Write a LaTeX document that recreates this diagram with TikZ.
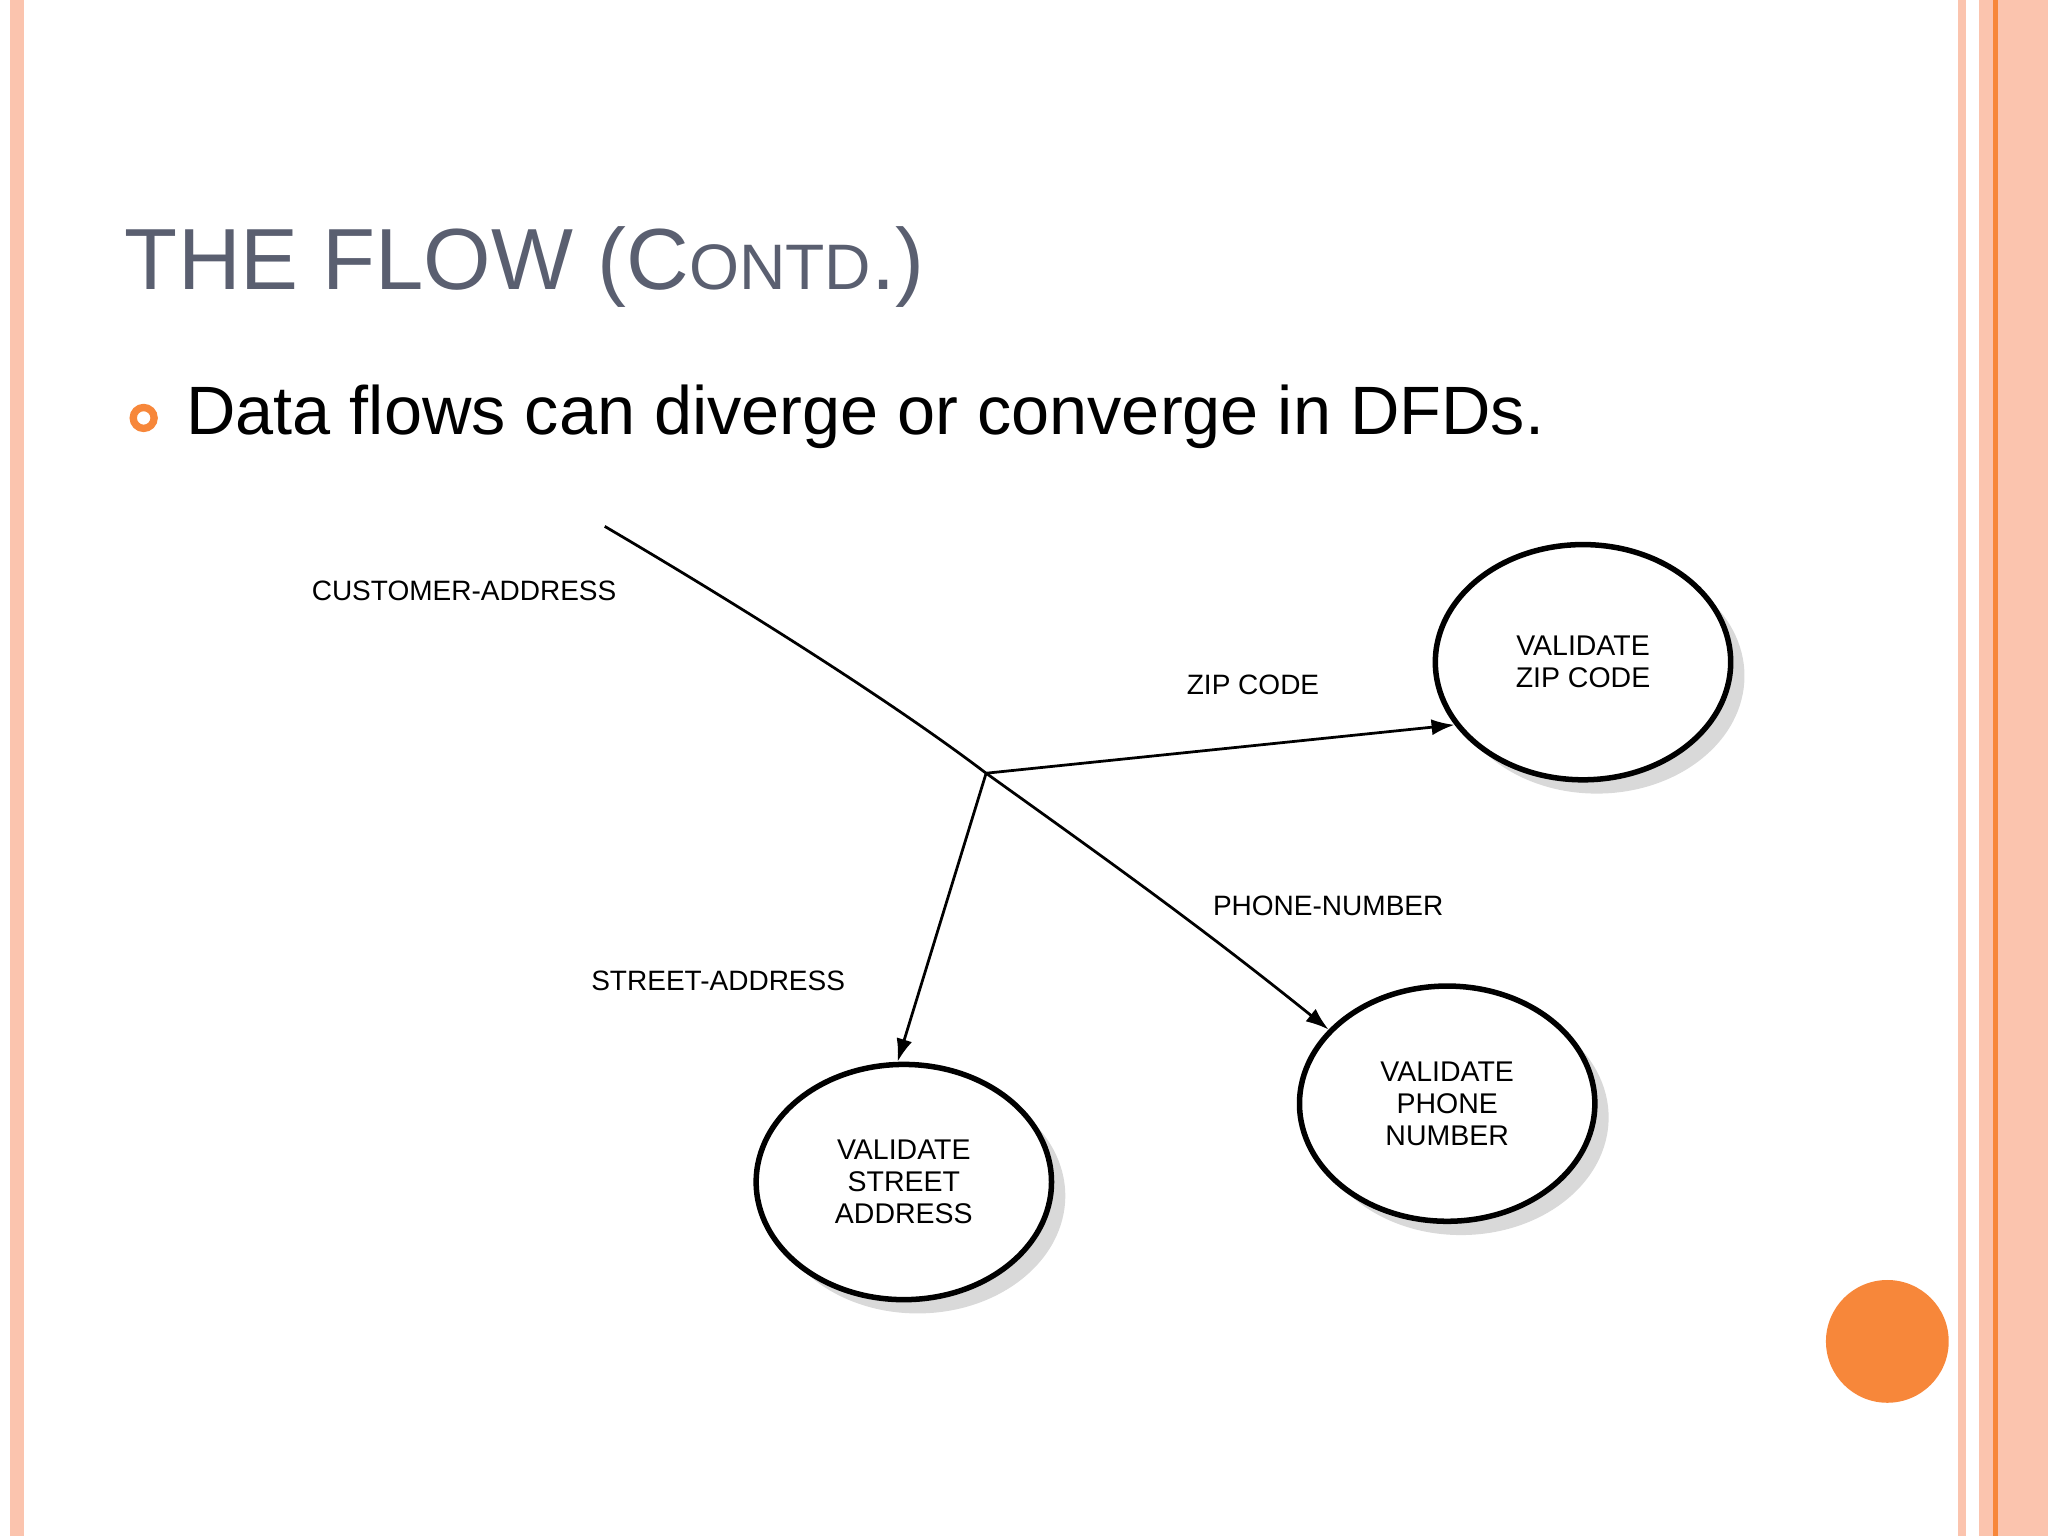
\documentclass[tikz,border=0pt]{standalone}
\usepackage{fontspec}
\setmainfont{Liberation Sans}
\usetikzlibrary{arrows.meta,shadows,shapes.geometric}
\definecolor{peach}{HTML}{FBC4AE}
\definecolor{orng}{HTML}{F7873A}
\definecolor{titl}{HTML}{5A5F70}
\tikzset{proc/.style={ellipse,draw=black,line width=1.2pt,fill=white,minimum width=2.26cm,minimum height=1.8cm,inner sep=0,align=center,font=\fontsize{6.2pt}{7pt}\selectfont,drop shadow={shadow xshift=3pt,shadow yshift=-3pt,opacity=0.3}},
flow/.style={line width=0.6pt,-{Latex[length=5pt,width=3.5pt]}},
lbl/.style={font=\fontsize{6.1pt}{7pt}\selectfont,anchor=base west,inner sep=0}}
\begin{document}
\begin{tikzpicture}[x=0.01cm,y=-0.01cm]
\useasboundingbox (0,0) rectangle (1568,1176);
\fill[peach] (8,0) rectangle (18,1176);
\fill[peach] (1499,0) rectangle (1505,1176);
\fill[peach] (1515,0) rectangle (1568,1176);
\draw[orng,line width=1pt] (1528,0) -- (1528,1176);
\node[anchor=base west,text=titl,font=\fontsize{18.9pt}{22pt}\selectfont,inner sep=0] (title) at (95,222) {THE FLOW (C{\fontsize{14pt}{16pt}\selectfont ONTD}.)};
\draw[orng,line width=1.6pt] (110,320) circle (8);
\node[anchor=base west,font=\fontsize{14.9pt}{18pt}\selectfont,inner sep=0] (bul) at (142,333) {Data flows can diverge or converge in DFDs.};
\node[proc] (zip) at (1212,507) {VALIDATE\\ZIP CODE};
\node[proc] (str) at (692,905) {VALIDATE\\STREET\\ADDRESS};
\node[proc] (ph) at (1108,845) {VALIDATE\\PHONE\\NUMBER};
\coordinate (src) at (463,403);
\coordinate (j) at (755,592);
\draw[line width=0.6pt] (src) .. controls (560,460) and (680,535) .. (j);
\draw[flow] (j) .. controls (850,660) and (920,710) .. (ph.148);
\draw[flow] (j) -- (zip.206);
\draw[flow] (j) -- (str.93);
\node[lbl] (l1) at (238,460) {CUSTOMER-ADDRESS};
\node[lbl] (l2) at (908,532) {ZIP CODE};
\node[lbl] (l3) at (928,701) {PHONE-NUMBER};
\node[lbl] (l4) at (452,758) {STREET-ADDRESS};
\fill[orng] (1445,1027) circle (47);
\end{tikzpicture}
\end{document}
